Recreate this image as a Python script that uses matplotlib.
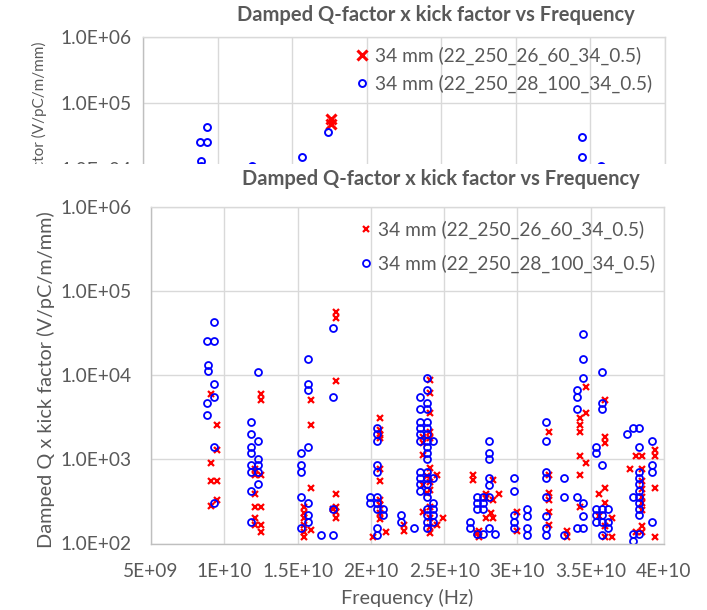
import matplotlib
matplotlib.use("Agg")
import matplotlib.pyplot as plt
from matplotlib.patches import Rectangle
from matplotlib.transforms import Bbox, TransformedBbox

plt.rcParams['font.family'] = ['Lato', 'DejaVu Sans']

title = "Damped Q-factor x kick factor vs Frequency"
y_label = "Damped Q x kick factor (V/pC/m/mm)"
x_label = "Frequency (Hz)"
label_red = "34 mm (22_250_26_60_34_0.5)"
label_blue = "34 mm (22_250_28_100_34_0.5)"

# Series 1 (red crosses): frequency in GHz, Q x kick in V/pC/m/mm
red_freq_ghz = [
    9.07, 9.52, 9.52, 9.07, 9.07, 9.52, 9.52, 9.07,
    12.52, 12.52, 12.07, 12.52, 12.07, 12.07, 12.07, 12.52, 12.07, 12.07, 12.52, 12.52,
    15.91, 15.91, 15.91, 15.46, 15.46, 15.46, 15.46, 15.91, 15.46, 15.46,
    17.60, 17.60, 17.60, 17.60, 17.60, 17.60, 17.60, 17.43,
    20.62, 20.62, 20.62, 20.62, 20.62, 20.62, 20.62, 20.62, 20.62, 20.62, 20.16, 21.01,
    22.28, 22.28,
    24.03, 24.03, 24.03, 24.03, 23.57, 24.03, 23.57, 23.57, 24.03, 24.49, 23.81,
    24.03, 23.57, 24.03, 23.81, 24.03, 23.57, 24.03, 24.94, 24.49, 24.03, 24.03,
    26.98, 26.98, 28.31, 27.85, 28.76, 27.85, 28.31, 28.19, 27.85, 28.31, 27.39, 27.39, 27.22,
    29.99, 29.99,
    32.15, 32.15, 32.15, 32.15, 32.15, 32.15, 33.40, 33.40,
    34.67, 34.67, 34.26, 34.26, 34.26, 34.26, 34.67, 34.26, 34.26,
    35.97, 35.97, 35.97, 35.97, 35.58, 35.97, 35.58, 35.97, 36.42, 36.42, 35.97,
    37.67, 38.08, 38.47, 38.47, 38.47, 38.47, 38.47, 38.47, 38.47, 39.38, 39.38, 39.38,
    38.08, 38.47, 38.47, 39.38,
]
red_value = [
    5930, 2560, 1290, 912, 547, 547, 328, 281,
    5930, 5120, 767, 651, 651, 390, 273, 273, 199, 165, 165, 138,
    5120, 2560, 459, 273, 232, 199, 165, 146, 138, 120,
    56900, 48300, 8530, 390, 273, 238, 199, 254,
    3070, 2230, 1960, 1780, 767, 547, 328, 288, 229, 196, 120, 138,
    165, 142,
    8770, 6090, 3580, 2130, 1870, 1780, 1550, 1130, 782, 651, 630,
    537, 500, 430, 400, 273, 240, 199, 199, 167, 158, 133,
    656, 565, 565, 390, 390, 347, 328, 232, 199, 199, 142, 121, 132,
    237, 142,
    2130, 651, 397, 328, 237, 164, 142, 121,
    7180, 3580, 3070, 2560, 2130, 1100, 912, 651, 273,
    5120, 1850, 1550, 462, 390, 300, 210, 160, 199, 120, 120,
    767, 1100, 1100, 767, 547, 446, 359, 300, 250, 1290, 1100, 463,
    138, 160, 138, 118,
]

# Series 2 (blue circles)
blue_freq_ghz = [
    9.30, 8.84, 9.30, 8.89, 8.89, 9.30, 9.30, 8.84, 8.84, 9.30, 9.30,
    12.28, 11.84, 11.84, 12.28, 11.84, 11.84, 12.28, 11.84, 12.28, 11.84, 12.28, 12.28, 11.84, 11.84,
    15.69, 15.69, 15.69, 15.69, 15.23, 15.23, 15.23, 15.23, 15.69, 15.69, 15.69, 15.23, 16.60,
    17.43, 17.43, 17.43, 17.43,
    20.40, 20.40, 20.40, 20.40, 20.40, 19.94, 20.40, 19.94, 20.40, 20.85, 20.40, 20.85, 20.40, 20.40,
    22.05, 22.05, 22.96,
    23.81, 23.81, 23.35, 23.81, 23.35, 23.81, 23.35, 23.81, 23.35, 23.81, 23.35, 23.81,
    23.35, 23.81, 24.26, 23.81, 23.81, 23.81, 23.35, 23.81, 23.35, 23.81, 24.26, 23.35,
    23.81, 23.35, 23.81, 23.81, 24.26, 23.81, 24.26, 23.81, 24.26, 23.81, 24.26, 23.81,
    28.08, 28.08, 28.08, 28.08, 28.08, 27.22, 27.63, 28.08, 27.22, 27.63, 27.22, 27.63,
    26.76, 26.76, 27.22, 27.63, 28.08, 28.46,
    29.76, 29.76, 29.76, 29.76, 29.76, 30.63, 30.63, 30.63, 30.63,
    31.92, 31.92, 31.92, 31.92, 31.92, 31.92, 31.92, 31.92, 33.17, 33.17, 33.17,
    34.45, 34.45, 34.45, 34.04, 34.04, 34.04, 34.04, 34.45, 34.45, 34.04, 34.45,
    35.74, 35.74, 35.74, 35.33, 35.33, 35.74, 35.33, 35.74, 36.19, 35.33, 35.74, 35.33,
    35.74, 36.19, 36.19, 35.74,
    37.45, 37.90, 38.31, 38.31, 39.15, 39.15, 39.15, 38.31, 38.31, 38.31, 38.31, 38.31,
    38.31, 38.31, 38.31, 37.90, 39.15, 37.90, 38.31, 37.90,
]
blue_value = [
    43300, 25700, 25700, 13100, 11200, 7860, 5500, 4630, 3330, 1410, 300,
    11000, 2800, 2000, 1660, 1410, 1200, 1000, 849, 849, 713, 713, 508, 423, 181,
    15400, 7860, 6670, 1410, 1200, 849, 713, 359, 300, 216, 181, 151, 126,
    36700, 5500, 254, 126,
    2380, 2000, 1660, 849, 713, 359, 359, 300, 300, 254, 254, 216, 151, 126,
    216, 181, 151,
    9340, 6670, 5550, 4710, 3960, 3960, 2800, 2800, 2380, 2380, 2000, 2000,
    1660, 1660, 1660, 1410, 1200, 1000, 713, 713, 594, 594, 594, 508,
    508, 423, 423, 359, 300, 254, 254, 216, 216, 181, 181, 151,
    1660, 1200, 1000, 594, 500, 359, 359, 359, 300, 300, 254, 254,
    181, 151, 128, 128, 151, 128,
    594, 423, 216, 181, 151, 254, 213, 151, 126,
    2800, 1660, 713, 594, 359, 214, 151, 126, 594, 359, 126,
    30900, 15400, 9340, 6670, 5550, 3960, 359, 300, 214, 151, 151,
    11000, 4630, 3960, 1410, 1200, 849, 254, 254, 254, 216, 216, 181,
    181, 181, 151, 126,
    2000, 2380, 2380, 1410, 1660, 849, 713, 713, 594, 508, 423, 359,
    300, 254, 216, 359, 181, 128, 128, 108,
]

x_ticks = [5e9, 1e10, 1.5e10, 2e10, 2.5e10, 3e10, 3.5e10, 4e10]
x_tick_labels = ["5E+09", "1E+10", "1.5E+10", "2E+10", "2.5E+10", "3E+10", "3.5E+10", "4E+10"]
y_ticks = [1e2, 1e3, 1e4, 1e5, 1e6]
y_tick_labels = ["1.0E+02", "1.0E+03", "1.0E+04", "1.0E+05", "1.0E+06"]

TEXT = "#595959"
GRID = "#d9d9d9"
AXIS = "#bfbfbf"
RED = "#ff0000"
BLUE = "#0000ff"
TICK_FS = 13.8
LABEL_FS = 14.3
TITLE_FS = 14.5
LEGEND_FS = 13.8

W, H = 707, 610
COVER_TOP = 163.5  # pixel row where the front sheet begins
fig = plt.figure(figsize=(W / 100, H / 100), dpi=100)


def px_box(left, top, right, bottom):
    return [left / W, 1 - bottom / H, (right - left) / W, (bottom - top) / H]


red_hz = [f * 1e9 for f in red_freq_ghz]
blue_hz = [f * 1e9 for f in blue_freq_ghz]


def setup_axes(ax, ypad, xpad, ylabels):
    ax.set_yscale('log')
    ax.set_xlim(x_ticks[0], x_ticks[-1])
    ax.set_ylim(y_ticks[0], y_ticks[-1])
    ax.set_xticks(x_ticks)
    ax.set_xticklabels(x_tick_labels)
    ax.set_yticks(y_ticks)
    ax.set_yticklabels(ylabels)
    ax.minorticks_off()
    ax.grid(True, color=GRID, linewidth=1.0)
    ax.set_axisbelow(True)
    for name, sp in ax.spines.items():
        sp.set_color(AXIS if name in ("left", "bottom") else GRID)
        sp.set_linewidth(1.0)
    ax.tick_params(axis='both', length=0, colors=TEXT, labelsize=TICK_FS)
    ax.tick_params(axis='y', pad=ypad)
    ax.tick_params(axis='x', pad=xpad)


# Earlier version of the chart, sitting behind; only its upper part shows
ax_bg = fig.add_axes(px_box(143, 37, 665, 301), zorder=0)
bg_labels = [lab if v >= 1e4 else "" for lab, v in zip(y_tick_labels, y_ticks)]
setup_axes(ax_bg, ypad=8, xpad=12, ylabels=bg_labels)
ax_bg.tick_params(axis='x', labelbottom=False)
ax_bg.plot(red_hz, red_value, ls='none', marker='x', ms=7, mew=2.2, color=RED, label=label_red)
ax_bg.plot(blue_hz, blue_value, ls='none', marker='o', ms=5, mew=1.4, mfc='none', color=BLUE, label=label_blue)
ax_bg.set_ylabel(y_label, fontsize=11, color=TEXT, rotation=90)
ax_bg.yaxis.label.set_ha('right')
ax_bg.yaxis.set_label_coords((47 - 143) / 522, (301 - 41) / 264)
visible = TransformedBbox(Bbox([[0, 1 - COVER_TOP / H], [1, 1]]), fig.transFigure)
ax_bg.yaxis.label.set_clip_box(visible)
ax_bg.yaxis.label.set_clip_on(True)
ax_bg.legend(loc='upper left', bbox_to_anchor=(355.3 / W, 1 - 47 / H), bbox_transform=fig.transFigure,
             frameon=False, fontsize=LEGEND_FS, handlelength=0.7, handletextpad=0.33,
             labelspacing=0.51, borderpad=0, borderaxespad=0, labelcolor=TEXT)
fig.text(436 / W, 1 - 15 / H, title, ha='center', va='center', fontsize=TITLE_FS,
         fontweight='bold', color=TEXT)

# White sheet of the newer chart covering the lower part
fig.add_artist(Rectangle((0, 0), 1, 1 - COVER_TOP / H, transform=fig.transFigure,
                         facecolor='white', edgecolor='none', zorder=1))

# Newer chart
ax = fig.add_axes(px_box(151, 207, 664, 543.5), zorder=2)
setup_axes(ax, ypad=14, xpad=14, ylabels=y_tick_labels)
ax.plot(red_hz, red_value, ls='none', marker='x', ms=5, mew=1.6, color=RED, label=label_red)
ax.plot(blue_hz, blue_value, ls='none', marker='o', ms=5, mew=1.3, mfc='none', color=BLUE, label=label_blue)
ax.set_ylabel(y_label, fontsize=LABEL_FS, color=TEXT)
ax.yaxis.set_label_coords((55 - 151) / 513, (543.5 - 380) / 336.5)
ax.set_xlabel(x_label, fontsize=LABEL_FS, color=TEXT)
ax.xaxis.set_label_coords(0.5, (543.5 - 589) / 336.5)
ax.legend(loc='upper left', bbox_to_anchor=(359.3 / W, 1 - 221 / H), bbox_transform=fig.transFigure,
          frameon=False, fontsize=LEGEND_FS, handlelength=0.7, handletextpad=0.28,
          labelspacing=0.82, borderpad=0, borderaxespad=0, labelcolor=TEXT)
fig.text(441 / W, 1 - 179 / H, title, ha='center', va='center', fontsize=TITLE_FS,
         fontweight='bold', color=TEXT, zorder=3)

fig.savefig("out.png", dpi=100)
